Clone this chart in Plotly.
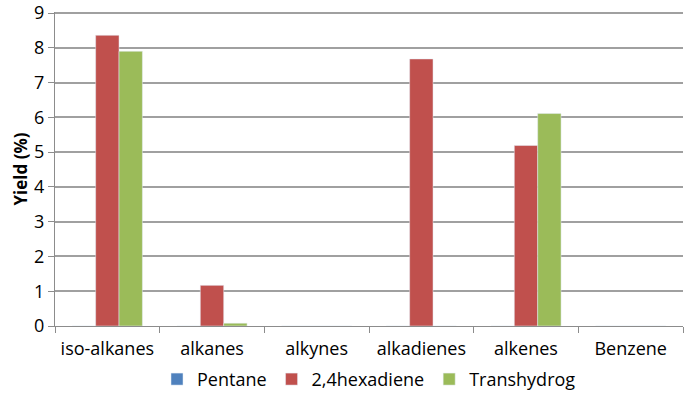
import plotly.graph_objects as go

categories = ['iso-alkanes', 'alkanes', 'alkynes', 'alkadienes', 'alkenes', 'Benzene']
pentane = [0, 0, 0, 0, 0, 0]
hexadiene = [8.36, 1.17, 0, 7.68, 5.19, 0]
transhydrog = [7.90, 0.08, 0, 0, 6.11, 0]
y_ticks = [0, 1, 2, 3, 4, 5, 6, 7, 8, 9]

fig = go.Figure()
fig.add_trace(go.Bar(x=categories, y=pentane, name='Pentane', marker=dict(color='#4F81BD')))
fig.add_trace(go.Bar(x=categories, y=hexadiene, name='2,4hexadiene', marker=dict(color='#C0504D')))
fig.add_trace(go.Bar(x=categories, y=transhydrog, name='Transhydrog', marker=dict(color='#9BBB59')))

fig.update_layout(
    width=685, height=405,
    margin=dict(l=55, r=2, t=12, b=79),
    barmode='group',
    bargap=0.33,
    bargroupgap=0,
    plot_bgcolor='white',
    paper_bgcolor='white',
    font=dict(family='Open Sans', size=18, color='#000000'),
    legend=dict(orientation='h', x=0.5, xanchor='center', y=-0.17, yanchor='middle',
                font=dict(size=18), itemwidth=30),
    xaxis=dict(showline=True, linecolor='#8c8c8c', linewidth=1, automargin=False,
               ticks='outside', tickson='boundaries', ticklen=6, tickcolor='#8c8c8c',
               ticklabelstandoff=6),
    yaxis=dict(range=[0, 9.03], tickvals=y_ticks, showline=True, linecolor='#8c8c8c',
               linewidth=1, automargin=False, ticklabeloverflow='allow',
               showgrid=True, gridcolor='#a0a0a0', gridwidth=1.5,
               ticks='outside', ticklen=6, tickcolor='#8c8c8c',
               title=dict(text='<b>Yield (%)</b>', font=dict(size=17), standoff=2)),
)

fig.write_html("out.html", config={'displayModeBar': False},
               post_script="document.body.style.margin='0';")
